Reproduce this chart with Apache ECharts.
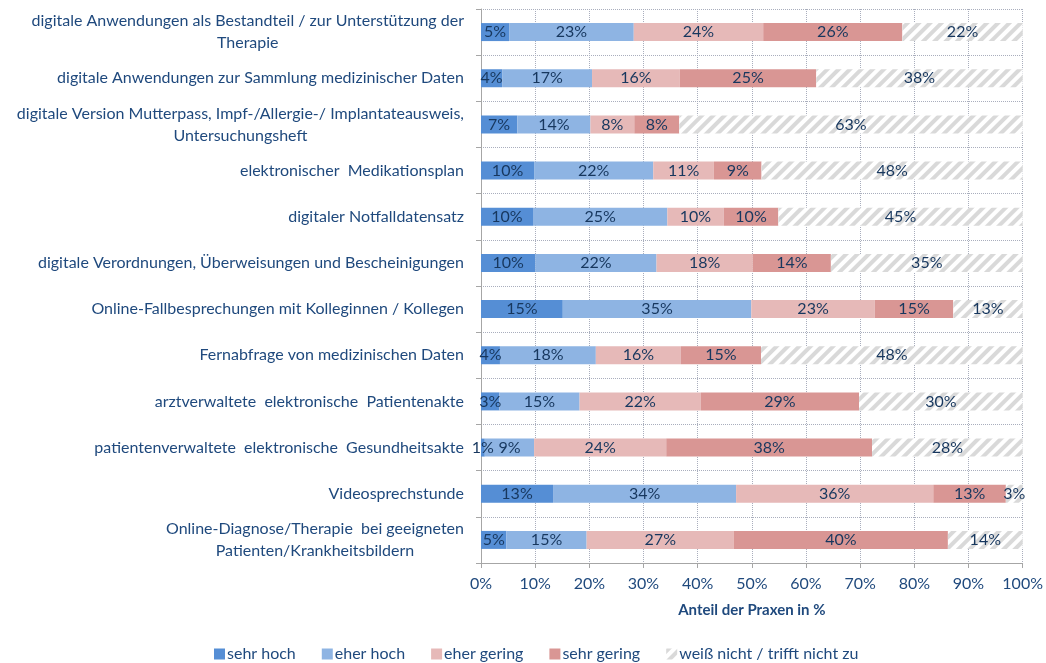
<!DOCTYPE html>
<html>
<head>
<meta charset="utf-8">
<script src="https://cdn.jsdelivr.net/npm/echarts@6/dist/echarts.min.js"></script>
<style>
  html, body { margin: 0; padding: 0; background: #fff; }
  #chart { width: 1046px; height: 663px; }
</style>
</head>
<body>
<div id="chart"></div>
<script>
var categories = [
    'digitale Anwendungen als Bestandteil / zur Unterstützung der\nTherapie',
    'digitale Anwendungen zur Sammlung medizinischer Daten',
    'digitale Version Mutterpass, Impf-/Allergie-/ Implantateausweis,\nUntersuchungsheft',
    'elektronischer  Medikationsplan',
    'digitaler Notfalldatensatz',
    'digitale Verordnungen, Überweisungen und Bescheinigungen',
    'Online-Fallbesprechungen mit Kolleginnen / Kollegen',
    'Fernabfrage von medizinischen Daten',
    'arztverwaltete  elektronische  Patientenakte',
    'patientenverwaltete  elektronische  Gesundheitsakte',
    'Videosprechstunde',
    'Online-Diagnose/Therapie  bei geeigneten\nPatienten/Krankheitsbildern'
];

var seriesNames = ['sehr hoch', 'eher hoch', 'eher gering', 'sehr gering', 'weiß nicht / trifft nicht zu'];

// Anteil der Praxen in %, je Kategorie (von oben nach unten)
var sehrHoch   = [5.2, 3.9, 6.7, 9.8, 9.6, 10.0, 15.1, 3.5, 3.4, 0.7, 13.3, 4.7];
var eherHoch   = [23.0, 16.6, 13.5, 22.0, 24.8, 22.4, 34.8, 17.7, 14.8, 9.1, 33.8, 14.8];
var eherGering = [23.9, 16.2, 8.1, 11.2, 10.4, 17.8, 22.8, 15.7, 22.4, 24.4, 36.4, 27.2];
var sehrGering = [25.7, 25.2, 8.3, 8.8, 10.1, 14.4, 14.5, 14.8, 29.2, 38.0, 13.4, 39.5];
var weissNicht = [22.2, 38.1, 63.4, 48.2, 45.1, 35.4, 12.8, 48.3, 30.2, 27.8, 3.1, 13.8];

var xTicks = [0, 10, 20, 30, 40, 50, 60, 70, 80, 90, 100];

var dom = document.getElementById('chart');
var myChart = echarts.init(dom);

var colors = ['#558ED5', '#8EB4E3', '#E6B9B8', '#D99694', '#FFFFFF'];
var textColor = '#1F497D';
var fontName = 'Lato, "Open Sans", sans-serif';
var fs = 16;

function makeSeries(name, data, idx) {
    var s = {
        name: name,
        type: 'bar',
        stack: 'total',
        barWidth: 18,
        data: data,
        itemStyle: {
            color: colors[idx]
        },
        label: {
            show: true,
            position: 'inside',
            color: '#17375E',
            fontFamily: fontName,
            fontSize: fs,
            formatter: function (p) {
                return Math.round(p.value) + '%';
            }
        },
        emphasis: { disabled: true }
    };
    if (idx === 4) {
        s.itemStyle.decal = {
            symbol: 'rect',
            symbolSize: 1,
            color: '#D9D9D9',
            dashArrayX: [1, 0],
            dashArrayY: [3.5, 3.5],
            rotation: -Math.PI / 4
        };
    }
    return s;
}

var option = {
    animation: false,
    textStyle: { fontFamily: fontName },
    grid: {
        left: 481,
        right: 23,
        top: 9,
        bottom: 100
    },
    legend: {
        top: 641,
        left: 209,
        itemWidth: 11,
        itemHeight: 11,
        itemGap: 26,
        icon: 'rect',
        textStyle: {
            color: textColor,
            fontSize: fs,
            fontFamily: fontName,
            padding: [0, 0, 0, -3]
        },
        data: seriesNames
    },
    xAxis: {
        type: 'value',
        min: 0,
        max: 100,
        interval: 10,
        name: 'Anteil der Praxen in %',
        nameLocation: 'middle',
        nameGap: 40,
        nameTextStyle: {
            color: textColor,
            fontWeight: 'bold',
            fontSize: 15,
            fontFamily: fontName
        },
        axisLine: { show: true, lineStyle: { color: '#A6A6A6' } },
        axisTick: { show: true, length: 5, lineStyle: { color: '#A6A6A6' } },
        axisLabel: {
            color: textColor,
            fontSize: fs,
            margin: 13,
            fontFamily: fontName,
            formatter: '{value}%'
        },
        splitLine: {
            show: true,
            lineStyle: { color: '#A9AEBD', type: 'dotted', width: 1 }
        }
    },
    yAxis: {
        type: 'category',
        inverse: true,
        data: categories,
        axisLine: { show: true, lineStyle: { color: '#A6A6A6' } },
        axisTick: { show: true, length: 5, lineStyle: { color: '#A6A6A6' } },
        axisLabel: {
            margin: 17,
            color: textColor,
            fontFamily: fontName,
            fontSize: fs,
            lineHeight: 22,
            formatter: function (v) {
                return v.split('\n').map(function (l) { return '{c|' + l + '}'; }).join('\n');
            },
            rich: {
                c: {
                    align: 'center',
                    color: textColor,
                    fontFamily: fontName,
                    fontSize: fs,
                    lineHeight: 22
                }
            }
        },
        splitLine: {
            show: true,
            lineStyle: { color: '#A9AEBD', type: 'dotted', width: 1 }
        }
    },
    series: [
        makeSeries(seriesNames[0], sehrHoch, 0),
        makeSeries(seriesNames[1], eherHoch, 1),
        makeSeries(seriesNames[2], eherGering, 2),
        makeSeries(seriesNames[3], sehrGering, 3),
        makeSeries(seriesNames[4], weissNicht, 4)
    ]
};

if (option && typeof option === 'object') {
    myChart.setOption(option, true);
}
</script>
</body>
</html>
